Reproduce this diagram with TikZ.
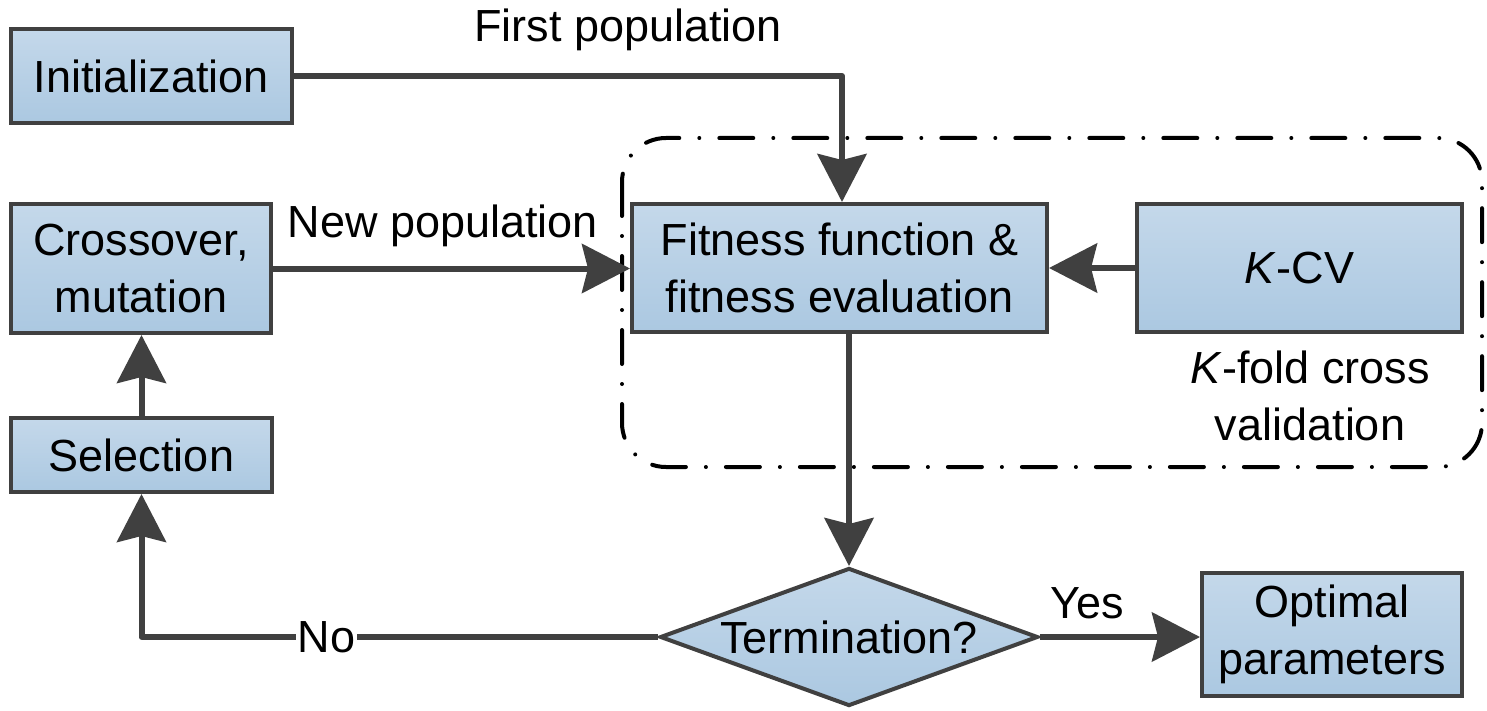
\documentclass[tikz,border=0pt]{standalone}
\usepackage{fontspec}
\setmainfont{Liberation Sans}
\usetikzlibrary{arrows.meta,shapes.geometric}
\definecolor{dg}{HTML}{404040}
\definecolor{btop}{RGB}{196,216,234}
\definecolor{bbot}{RGB}{171,200,225}
\newcommand\dfont{\fontsize{22.5}{28.5}\selectfont}
\begin{document}
\begin{tikzpicture}[x=0.5pt,y=-0.5pt,
  box/.style={draw=dg, line width=2pt, top color=btop, bottom color=bbot, align=center, inner sep=0pt, font=\dfont},
  lab/.style={align=center, inner sep=1pt, font=\dfont},
  arr/.style={draw=dg, line width=3pt, line join=round, -{Stealth[length=24pt,width=24.5pt,inset=3pt]}},
  cvbox/.style={draw=black, line width=2pt, line cap=round, dash pattern=on 17pt off 10pt on 0pt off 10pt, rounded corners=22pt}]
\useasboundingbox (0,0) rectangle (1487,711);
% dashed group
\draw[cvbox] (622,138) rectangle (1482,467);
% nodes
\node[box, minimum width=140.5pt, minimum height=47pt] (init) at (151.5,76) {Initialization};
\node[box, minimum width=130pt, minimum height=64.5pt] (cross) at (141,268.5) {Crossover,\\mutation};
\node[box, minimum width=130.5pt, minimum height=37pt] (sel) at (141.5,455) {Selection};
\node[box, minimum width=207.5pt, minimum height=64pt] (fit) at (839.5,268) {Fitness function \&\\fitness evaluation};
\node[box, minimum width=162.5pt, minimum height=64pt] (kcv) at (1299.5,268) {\textit{K}-CV};
\node[box, minimum width=130pt, minimum height=61.5pt] (opt) at (1332,634.5) {Optimal\\parameters};
\node[box, shape=diamond, aspect=2.71, minimum width=189pt, minimum height=69pt] (term) at (849,637) {Termination?};
% labels
\node[lab] (fp) at (628,30) {First population};
\node[lab] (np) at (443,226) {New population};
\node[lab] (kf) at (1310,396) {\textit{K}-fold cross\\validation};
\node[lab] (yes) at (1087,603) {Yes};
% connectors
\coordinate (fpx) at (842,76);
\draw[arr] (init.east) -- (fpx) -- (fpx |- fit.north);
\draw[arr] (cross.east) -- (cross.east -| fit.west);
\draw[arr] (kcv.west) -- (fit.east);
\draw[arr] (sel.north) -- (sel.north |- cross.south);
\draw[arr] (term.north |- fit.south) -- (term.north);
\draw[arr] (term.east) -- (term.east -| opt.west);
\draw[arr] (term.west) -| node[lab, fill=white, pos=0.321] (no) {No} (sel.south);
\end{tikzpicture}
\end{document}
